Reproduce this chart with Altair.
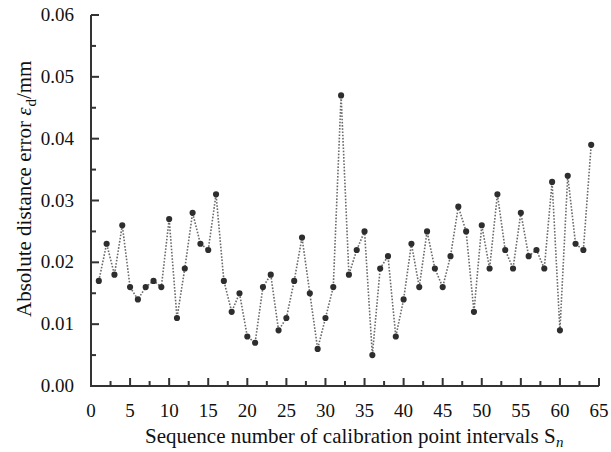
import altair as alt
import pandas as pd

# ---- data ----
seq = list(range(1, 65))
errors = [0.017, 0.023, 0.018, 0.026, 0.016, 0.014, 0.016, 0.017, 0.016, 0.027,
          0.011, 0.019, 0.028, 0.023, 0.022, 0.031, 0.017, 0.012, 0.015, 0.008,
          0.007, 0.016, 0.018, 0.009, 0.011, 0.017, 0.024, 0.015, 0.006, 0.011,
          0.016, 0.047, 0.018, 0.022, 0.025, 0.005, 0.019, 0.021, 0.008, 0.014,
          0.023, 0.016, 0.025, 0.019, 0.016, 0.021, 0.029, 0.025, 0.012, 0.026,
          0.019, 0.031, 0.022, 0.019, 0.028, 0.021, 0.022, 0.019, 0.033, 0.009,
          0.034, 0.023, 0.022, 0.039]
x_major = [0, 5, 10, 15, 20, 25, 30, 35, 40, 45, 50, 55, 60, 65]
x_labels = ["0", "5", "10", "15", "20", "25", "30", "35", "40", "45", "50", "55", "60", "65"]
x_minor = [2.5, 7.5, 12.5, 17.5, 22.5, 27.5, 32.5, 37.5, 42.5, 47.5, 52.5, 57.5, 62.5]
y_major = [0.0, 0.01, 0.02, 0.03, 0.04, 0.05, 0.06]
y_labels = ["0.00", "0.01", "0.02", "0.03", "0.04", "0.05", "0.06"]
y_minor = [0.005, 0.015, 0.025, 0.035, 0.045, 0.055]

W, H = 508, 371
FONT = "Liberation Serif"
AX = "#333333"
TXT = "#111111"

df = pd.DataFrame({"seq": seq, "err": errors})

xs = alt.Scale(domain=[0, 65], nice=False, zero=False)
ys = alt.Scale(domain=[0, 0.06], nice=False)

base = alt.Chart(df)
line = base.mark_line(color="#6a6a6a", strokeWidth=1.6, strokeDash=[1.6, 1.6]).encode(
    x=alt.X("seq:Q", scale=xs, axis=None),
    y=alt.Y("err:Q", scale=ys, axis=None),
)
pts = base.mark_point(filled=True, color="#2e2e2e", size=38, opacity=1).encode(
    x=alt.X("seq:Q", scale=xs, axis=None),
    y=alt.Y("err:Q", scale=ys, axis=None),
)

# axis lines
one = pd.DataFrame({"a": [0]})
xdom = alt.Chart(one).mark_rule(color=AX, strokeWidth=2).encode(
    x=alt.value(-1), x2=alt.value(W), y=alt.value(H))
ydom = alt.Chart(one).mark_rule(color=AX, strokeWidth=2).encode(
    x=alt.value(0), y=alt.value(0), y2=alt.value(H + 1))

# inward ticks (mark_tick at fixed offset from the axis line)
xmaj = alt.Chart(pd.DataFrame({"t": x_major})).mark_tick(
    color=AX, thickness=2, size=8, orient="vertical", opacity=1).encode(
    x=alt.X("t:Q", scale=xs, axis=None), y=alt.value(H - 4))
xmin = alt.Chart(pd.DataFrame({"t": x_minor})).mark_tick(
    color=AX, thickness=2, size=5, orient="vertical", opacity=1).encode(
    x=alt.X("t:Q", scale=xs, axis=None), y=alt.value(H - 2.5))
ymaj = alt.Chart(pd.DataFrame({"t": y_major})).mark_tick(
    color=AX, thickness=2, size=8, orient="horizontal", opacity=1).encode(
    y=alt.Y("t:Q", scale=ys, axis=None), x=alt.value(4))
ymin = alt.Chart(pd.DataFrame({"t": y_minor})).mark_tick(
    color=AX, thickness=2, size=5, orient="horizontal", opacity=1).encode(
    y=alt.Y("t:Q", scale=ys, axis=None), x=alt.value(2.5))

# tick labels
xlab = alt.Chart(pd.DataFrame({"t": x_major, "s": x_labels})).mark_text(
    font=FONT, fontSize=19, color=TXT, align="center", baseline="alphabetic").encode(
    x=alt.X("t:Q", scale=xs, axis=None), y=alt.value(H + 31), text="s:N")
ylab = alt.Chart(pd.DataFrame({"t": y_major, "s": y_labels})).mark_text(
    font=FONT, fontSize=19, color=TXT, align="right", baseline="middle").encode(
    y=alt.Y("t:Q", scale=ys, axis=None), x=alt.value(-17), text="s:N")

# titles with subscripts
TS = 21
SUB = 15


def txt(s, x, y, size=TS, angle=0, style="normal", align="left"):
    return alt.Chart(one).mark_text(
        text=s, font=FONT, fontSize=size, fontStyle=style, align=align,
        baseline="alphabetic", angle=angle, color=TXT
    ).encode(x=alt.value(x), y=alt.value(y))

# x title
xt_left = 54
xt_base = 428
xt_main = "Sequence number of calibration point intervals S"
xt_w = 19.553 * TS
xtitle = txt(xt_main, xt_left, xt_base) + txt("n", xt_left + xt_w + 0.5, xt_base + 4, size=SUB, style="italic")

# y title (rotated)
yb = -60
y0 = 302
w1 = 9.581 * TS
w_eps = 0.44 * TS
w_d = 0.5 * SUB
ytitle = (
    txt("Absolute distance error ", yb, y0, angle=270)
    + txt("ε", yb, y0 - w1, angle=270, style="italic")
    + txt("d", yb + 5, y0 - w1 - w_eps, size=SUB, angle=270)
    + txt("/mm", yb, y0 - w1 - w_eps - w_d, angle=270)
)

chart = alt.layer(line, pts, xdom, ydom, xmaj, xmin, ymaj, ymin, xlab, ylab, xtitle, ytitle).properties(
    width=W, height=H,
    autosize=alt.AutoSizeParams(type="none"),
    padding={"left": 91, "top": 15, "right": 12, "bottom": 66},
    background="white",
).configure_view(stroke=None)

chart.save("out.html", embed_options={"renderer": "svg", "actions": False})
